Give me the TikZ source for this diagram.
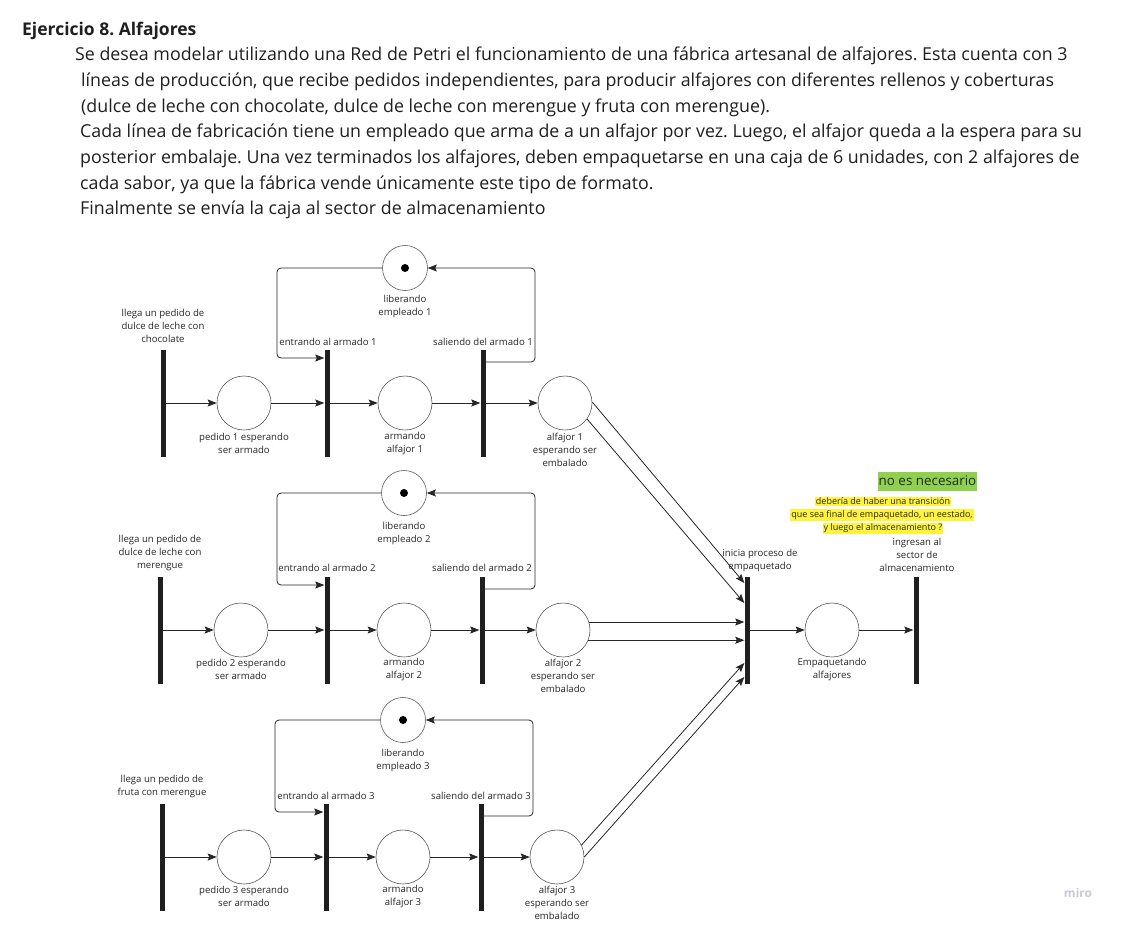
\documentclass[tikz,border=0pt]{standalone}
\usepackage{fontspec}
\setmainfont{Open Sans}
\usetikzlibrary{arrows.meta}
\definecolor{nogreen}{HTML}{8FD14F}
\definecolor{hiyellow}{HTML}{FFF33B}
\definecolor{mirogray}{HTML}{C9C9D6}
\frenchspacing
\begin{document}
\begin{tikzpicture}[x=1pt,y=-1pt,
  place/.style={circle, draw=black!65, line width=0.6pt, minimum size=54pt, inner sep=0pt},
  emp/.style={circle, draw=black!65, line width=0.6pt, minimum size=45pt, inner sep=0pt},
  tok/.style={circle, fill=black, minimum size=8pt, inner sep=0pt},
  trans/.style={fill=black!88, draw=none, minimum width=5pt, minimum height=107pt, inner sep=0pt},
  lbl/.style={font=\fontsize{9.6}{13}\selectfont, align=center, text=black!85, inner sep=0pt},
  body/.style={font=\fontsize{17.8}{26}\selectfont, anchor=base west, inner sep=0pt, text=black!88},
  arc/.style={-{Stealth[length=9pt,width=7pt,inset=1.5pt]}, line width=0.8pt, draw=black!85},
  loop/.style={arc, rounded corners=4pt}
]
\useasboundingbox (0,0) rectangle (1141,948);

% ---------------- statement text ----------------
\node[body, font=\fontsize{17.5}{20}\selectfont\bfseries] (title) at (22,35) {Ejercicio 8. Alfajores};
\node[body] (b1) at (75,60) {Se desea modelar utilizando una Red de Petri el funcionamiento de una fábrica artesanal de alfajores. Esta cuenta con 3};
\node[body] (b2) at (81,86) {líneas de producción, que recibe pedidos independientes, para producir alfajores con diferentes rellenos y coberturas};
\node[body] (b3) at (81,112) {(dulce de leche con chocolate, dulce de leche con merengue y fruta con merengue).};
\node[body] (b4) at (80,137) {Cada línea de fabricación tiene un empleado que arma de a un alfajor por vez. Luego, el alfajor queda a la espera para su};
\node[body] (b5) at (80,163) {posterior embalaje. Una vez terminados los alfajores, deben empaquetarse en una caja de 6 unidades, con 2 alfajores de};
\node[body] (b6) at (80,189) {cada sabor, ya que la fábrica vende únicamente este tipo de formato.};
\node[body] (b7) at (80,214) {Finalmente se envía la caja al sector de almacenamiento};

% ---------------- line 1 ----------------
\node[trans] (a1) at (163,403) {};
\node[place] (p1) at (244,403) {};
\node[trans] (e1) at (327,403) {};
\node[place] (m1) at (405,403) {};
\node[trans] (s1) at (483,403) {};
\node[place] (f1) at (565,403) {};
\node[emp] (l1) at (405,268) {};
\node[tok] (k1) at (l1) {};
\node[lbl] (la1) at (163,326) {llega un pedido de\\dulce de leche con\\chocolate};
\node[lbl] (lp1) at (244,443) {pedido 1 esperando\\ser armado};
\node[lbl] (le1) at (328,342) {entrando al armado 1};
\node[lbl] (lm1) at (405,443) {armando\\alfajor 1};
\node[lbl] (ls1) at (483,342) {saliendo del armado 1};
\node[lbl] (lf1) at (565,450) {alfajor 1\\esperando ser\\embalado};
\node[lbl] (ll1) at (405,307) {liberando\\empleado 1};
\coordinate (c1) at (277,358);
\coordinate (d1) at (535,362);
\draw[arc] (a1) -- (p1);
\draw[arc] (p1) -- (e1);
\draw[arc] (e1) -- (m1);
\draw[arc] (m1) -- (s1);
\draw[arc] (s1) -- (f1);
\draw[loop] (l1.west) -| (c1) -- (c1 -| e1.west);
\draw[loop] (s1.east |- d1) -- (d1) |- (l1.east);

% ---------------- line 2 ----------------
\node[trans] (a2) at (160,630) {};
\node[place] (p2) at (241,630) {};
\node[trans] (e2) at (327,630) {};
\node[place] (m2) at (404,630) {};
\node[trans] (s2) at (482,630) {};
\node[place] (f2) at (563,630) {};
\node[emp] (l2) at (404,493) {};
\node[tok] (k2) at (l2) {};
\node[lbl] (la2) at (160,553) {llega un pedido de\\dulce de leche con\\merengue};
\node[lbl] (lp2) at (241,669) {pedido 2 esperando\\ser armado};
\node[lbl] (le2) at (327,568) {entrando al armado 2};
\node[lbl] (lm2) at (404,669) {armando\\alfajor 2};
\node[lbl] (ls2) at (482,568) {saliendo del armado 2};
\node[lbl] (lf2) at (563,676) {alfajor 2\\esperando ser\\embalado};
\node[lbl] (ll2) at (404,533) {liberando\\empleado 2};
\coordinate (c2) at (277,585);
\coordinate (d2) at (535,589);
\draw[arc] (a2) -- (p2);
\draw[arc] (p2) -- (e2);
\draw[arc] (e2) -- (m2);
\draw[arc] (m2) -- (s2);
\draw[arc] (s2) -- (f2);
\draw[loop] (l2.west) -| (c2) -- (c2 -| e2.west);
\draw[loop] (s2.east |- d2) -- (d2) |- (l2.east);

% ---------------- line 3 ----------------
\node[trans] (a3) at (162,857) {};
\node[place] (p3) at (244,857) {};
\node[trans] (e3) at (326,857) {};
\node[place] (m3) at (403,857) {};
\node[trans] (s3) at (481,857) {};
\node[place] (f3) at (557,857) {};
\node[emp] (l3) at (403,720) {};
\node[tok] (k3) at (l3) {};
\node[lbl] (la3) at (162,786) {llega un pedido de\\fruta con merengue};
\node[lbl] (lp3) at (244,896) {pedido 3 esperando\\ser armado};
\node[lbl] (le3) at (326,796) {entrando al armado 3};
\node[lbl] (lm3) at (403,896) {armando\\alfajor 3};
\node[lbl] (ls3) at (481,796) {saliendo del armado 3};
\node[lbl] (lf3) at (557,903) {alfajor 3\\esperando ser\\embalado};
\node[lbl] (ll3) at (403,760) {liberando\\empleado 3};
\coordinate (c3) at (275,812);
\coordinate (d3) at (533,816);
\draw[arc] (a3) -- (p3);
\draw[arc] (p3) -- (e3);
\draw[arc] (e3) -- (m3);
\draw[arc] (m3) -- (s3);
\draw[arc] (s3) -- (f3);
\draw[loop] (l3.west) -| (c3) -- (c3 -| e3.west);
\draw[loop] (s3.east |- d3) -- (d3) |- (l3.east);

% ---------------- packaging ----------------
\node[trans] (T) at (747,630) {};
\node[place] (E) at (832,630) {};
\node[trans] (F) at (916,630) {};
\node[lbl] (lT) at (760,560) {inicia proceso de\\empaquetado};
\node[lbl] (lE) at (832,669) {Empaquetando\\alfajores};
\node[lbl] (lF) at (917,555) {ingresan al\\sector de\\almacenamiento};

\draw[arc] (f1.2) -- ([yshift=47pt]T.west);
\draw[arc] (f1.-36) -- ([yshift=27pt]T.west);
\draw[arc] (f2.17) -- (f2.17 -| T.west);
\draw[arc] (f2.-22) -- (f2.-22 -| T.west);
\draw[arc] (f3.26) -- ([yshift=-33pt]T.west);
\draw[arc] (f3.0) -- ([yshift=-47pt]T.west);
\draw[arc] (T) -- (E);
\draw[arc] (E) -- (F);

% ---------------- annotations ----------------
\node[fill=nogreen, font=\fontsize{13.4}{15}\selectfont, text=black!85, minimum width=98pt, minimum height=19pt, inner sep=1pt] (nonec) at (927.5,481) {no es necesario};
\node[fill=hiyellow, font=\fontsize{9}{10}\selectfont, text=black!85, inner sep=1pt] (y1) at (883,501.5) {debería de haber una transición};
\node[fill=hiyellow, font=\fontsize{9}{10}\selectfont, text=black!85, inner sep=1pt] (y2) at (882,515) {que sea final de empaquetado, un eestado,};
\node[fill=hiyellow, font=\fontsize{9}{10}\selectfont, text=black!85, inner sep=1pt] (y3) at (883,528.5) {y luego el almacenamiento ?};

\node[text=mirogray, font=\fontsize{12}{14}\selectfont\bfseries] (miro) at (1078,893) {miro};
\end{tikzpicture}
\end{document}
